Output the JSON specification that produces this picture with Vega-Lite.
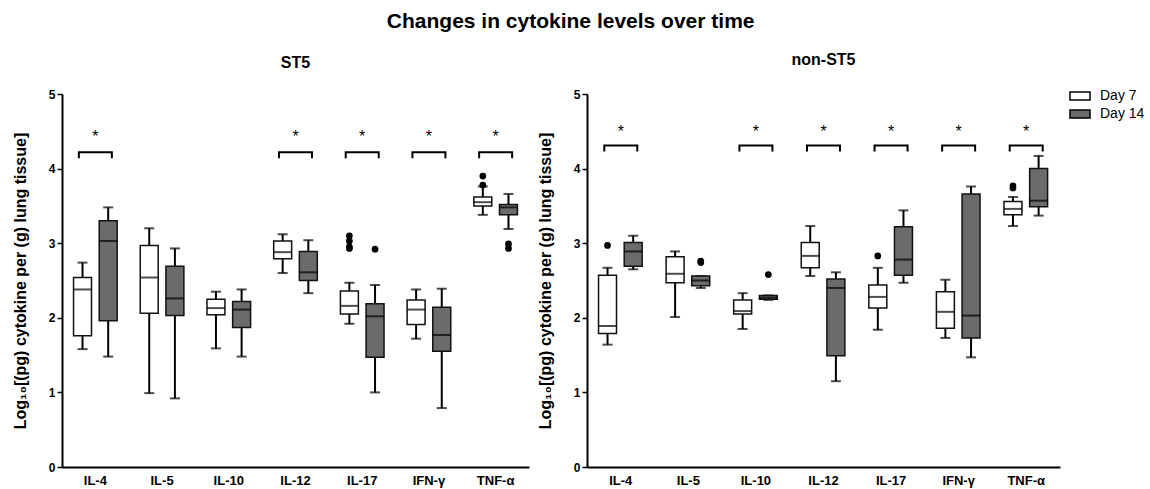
{
  "$schema": "https://vega.github.io/schema/vega-lite/v6.json",
  "padding": {"left": 12, "top": 11, "right": 0, "bottom": 2},
  "background": "white",
  "config": {
    "font": "Liberation Sans",
    "view": {"stroke": null},
    "axisY": {"domainColor": "black", "domainWidth": 2, "tickColor": "black", "tickWidth": 1.5, "tickSize": 5, "labelFontSize": 12, "labelFontWeight": "bold", "labelColor": "black", "labelPadding": 2, "titleFontSize": 16, "titleFontWeight": "bold", "titleColor": "black", "titlePadding": 20, "grid": false, "tickCount": 5},
    "axisX": {"domainColor": "black", "domainWidth": 2, "ticks": false, "labelFontSize": 13, "labelFontWeight": "bold", "labelColor": "black", "labelAngle": 0, "labelPadding": 7, "grid": false},
    "legend": {"labelFontSize": 14, "labelColor": "black", "symbolType": "M-1,-0.4H1V0.4H-1Z", "symbolSize": 400, "symbolStrokeColor": "black", "symbolStrokeWidth": 1.5, "rowPadding": 0, "labelOffset": 9}
  },
  "title": {"text": "Changes in cytokine levels over time", "fontSize": 21, "fontWeight": "bold", "color": "black", "anchor": "middle", "offset": 20, "dx": -8},
  "datasets": {
    "boxes": [
      {"panel": "ST5", "cytokine": "IL-4", "day": "Day 7", "lower": 1.58, "q1": 1.76, "median": 2.38, "q3": 2.54, "upper": 2.74},
      {"panel": "ST5", "cytokine": "IL-4", "day": "Day 14", "lower": 1.48, "q1": 1.96, "median": 3.03, "q3": 3.30, "upper": 3.48},
      {"panel": "ST5", "cytokine": "IL-5", "day": "Day 7", "lower": 0.99, "q1": 2.06, "median": 2.54, "q3": 2.97, "upper": 3.20},
      {"panel": "ST5", "cytokine": "IL-5", "day": "Day 14", "lower": 0.92, "q1": 2.03, "median": 2.26, "q3": 2.69, "upper": 2.93},
      {"panel": "ST5", "cytokine": "IL-10", "day": "Day 7", "lower": 1.59, "q1": 2.04, "median": 2.13, "q3": 2.25, "upper": 2.35},
      {"panel": "ST5", "cytokine": "IL-10", "day": "Day 14", "lower": 1.48, "q1": 1.87, "median": 2.11, "q3": 2.22, "upper": 2.38},
      {"panel": "ST5", "cytokine": "IL-12", "day": "Day 7", "lower": 2.60, "q1": 2.79, "median": 2.88, "q3": 3.03, "upper": 3.12},
      {"panel": "ST5", "cytokine": "IL-12", "day": "Day 14", "lower": 2.33, "q1": 2.50, "median": 2.61, "q3": 2.89, "upper": 3.04},
      {"panel": "ST5", "cytokine": "IL-17", "day": "Day 7", "lower": 1.92, "q1": 2.05, "median": 2.16, "q3": 2.36, "upper": 2.47},
      {"panel": "ST5", "cytokine": "IL-17", "day": "Day 14", "lower": 1.00, "q1": 1.47, "median": 2.02, "q3": 2.19, "upper": 2.44},
      {"panel": "ST5", "cytokine": "IFN-γ", "day": "Day 7", "lower": 1.72, "q1": 1.91, "median": 2.11, "q3": 2.24, "upper": 2.38},
      {"panel": "ST5", "cytokine": "IFN-γ", "day": "Day 14", "lower": 0.79, "q1": 1.55, "median": 1.77, "q3": 2.14, "upper": 2.39},
      {"panel": "ST5", "cytokine": "TNF-α", "day": "Day 7", "lower": 3.38, "q1": 3.50, "median": 3.55, "q3": 3.62, "upper": 3.76},
      {"panel": "ST5", "cytokine": "TNF-α", "day": "Day 14", "lower": 3.19, "q1": 3.38, "median": 3.48, "q3": 3.52, "upper": 3.66},
      {"panel": "non-ST5", "cytokine": "IL-4", "day": "Day 7", "lower": 1.64, "q1": 1.79, "median": 1.89, "q3": 2.57, "upper": 2.67},
      {"panel": "non-ST5", "cytokine": "IL-4", "day": "Day 14", "lower": 2.65, "q1": 2.69, "median": 2.89, "q3": 3.01, "upper": 3.10},
      {"panel": "non-ST5", "cytokine": "IL-5", "day": "Day 7", "lower": 2.01, "q1": 2.47, "median": 2.59, "q3": 2.82, "upper": 2.89},
      {"panel": "non-ST5", "cytokine": "IL-5", "day": "Day 14", "lower": 2.40, "q1": 2.43, "median": 2.50, "q3": 2.56, "upper": 2.56},
      {"panel": "non-ST5", "cytokine": "IL-10", "day": "Day 7", "lower": 1.85, "q1": 2.05, "median": 2.09, "q3": 2.24, "upper": 2.33},
      {"panel": "non-ST5", "cytokine": "IL-10", "day": "Day 14", "lower": 2.24, "q1": 2.25, "median": 2.27, "q3": 2.30, "upper": 2.30},
      {"panel": "non-ST5", "cytokine": "IL-12", "day": "Day 7", "lower": 2.56, "q1": 2.67, "median": 2.83, "q3": 3.01, "upper": 3.23},
      {"panel": "non-ST5", "cytokine": "IL-12", "day": "Day 14", "lower": 1.15, "q1": 1.49, "median": 2.40, "q3": 2.52, "upper": 2.61},
      {"panel": "non-ST5", "cytokine": "IL-17", "day": "Day 7", "lower": 1.84, "q1": 2.13, "median": 2.28, "q3": 2.44, "upper": 2.67},
      {"panel": "non-ST5", "cytokine": "IL-17", "day": "Day 14", "lower": 2.47, "q1": 2.57, "median": 2.78, "q3": 3.22, "upper": 3.44},
      {"panel": "non-ST5", "cytokine": "IFN-γ", "day": "Day 7", "lower": 1.73, "q1": 1.86, "median": 2.08, "q3": 2.35, "upper": 2.51},
      {"panel": "non-ST5", "cytokine": "IFN-γ", "day": "Day 14", "lower": 1.47, "q1": 1.73, "median": 2.03, "q3": 3.66, "upper": 3.76},
      {"panel": "non-ST5", "cytokine": "TNF-α", "day": "Day 7", "lower": 3.23, "q1": 3.38, "median": 3.46, "q3": 3.56, "upper": 3.62},
      {"panel": "non-ST5", "cytokine": "TNF-α", "day": "Day 14", "lower": 3.37, "q1": 3.49, "median": 3.57, "q3": 4.00, "upper": 4.17}
    ],
    "outliers": [
      {"panel": "ST5", "cytokine": "IL-17", "day": "Day 7", "value": 3.10},
      {"panel": "ST5", "cytokine": "IL-17", "day": "Day 7", "value": 3.03},
      {"panel": "ST5", "cytokine": "IL-17", "day": "Day 7", "value": 2.95},
      {"panel": "ST5", "cytokine": "IL-17", "day": "Day 7", "value": 2.93},
      {"panel": "ST5", "cytokine": "IL-17", "day": "Day 14", "value": 2.92},
      {"panel": "ST5", "cytokine": "TNF-α", "day": "Day 7", "value": 3.78},
      {"panel": "ST5", "cytokine": "TNF-α", "day": "Day 7", "value": 3.90},
      {"panel": "ST5", "cytokine": "TNF-α", "day": "Day 14", "value": 2.93},
      {"panel": "ST5", "cytokine": "TNF-α", "day": "Day 14", "value": 2.99},
      {"panel": "non-ST5", "cytokine": "IL-4", "day": "Day 7", "value": 2.97},
      {"panel": "non-ST5", "cytokine": "IL-5", "day": "Day 14", "value": 2.74},
      {"panel": "non-ST5", "cytokine": "IL-5", "day": "Day 14", "value": 2.76},
      {"panel": "non-ST5", "cytokine": "IL-10", "day": "Day 14", "value": 2.58},
      {"panel": "non-ST5", "cytokine": "IL-17", "day": "Day 7", "value": 2.83},
      {"panel": "non-ST5", "cytokine": "TNF-α", "day": "Day 7", "value": 3.74},
      {"panel": "non-ST5", "cytokine": "TNF-α", "day": "Day 7", "value": 3.77}
    ],
    "sig": [
      {"panel": "ST5", "cytokine": "IL-4", "bracket": 4.22, "star": 4.42, "label": "*"},
      {"panel": "ST5", "cytokine": "IL-12", "bracket": 4.22, "star": 4.42, "label": "*"},
      {"panel": "ST5", "cytokine": "IL-17", "bracket": 4.22, "star": 4.42, "label": "*"},
      {"panel": "ST5", "cytokine": "IFN-γ", "bracket": 4.22, "star": 4.42, "label": "*"},
      {"panel": "ST5", "cytokine": "TNF-α", "bracket": 4.22, "star": 4.42, "label": "*"},
      {"panel": "non-ST5", "cytokine": "IL-4", "bracket": 4.31, "star": 4.49, "label": "*"},
      {"panel": "non-ST5", "cytokine": "IL-10", "bracket": 4.31, "star": 4.49, "label": "*"},
      {"panel": "non-ST5", "cytokine": "IL-12", "bracket": 4.31, "star": 4.49, "label": "*"},
      {"panel": "non-ST5", "cytokine": "IL-17", "bracket": 4.31, "star": 4.49, "label": "*"},
      {"panel": "non-ST5", "cytokine": "IFN-γ", "bracket": 4.31, "star": 4.49, "label": "*"},
      {"panel": "non-ST5", "cytokine": "TNF-α", "bracket": 4.31, "star": 4.49, "label": "*"}
    ]
  },
  "resolve": {"legend": {"fill": "independent"}},
  "spacing": 8,
  "hconcat": [
    {
      "title": {"text": "ST5", "fontSize": 16, "fontWeight": "bold", "color": "black", "offset": 17},
      "width": 467,
      "height": 373,
      "encoding": {
        "x": {"field": "cytokine", "type": "nominal", "sort": ["IL-4", "IL-5", "IL-10", "IL-12", "IL-17", "IFN-γ", "TNF-α"], "scale": {"paddingInner": 0, "paddingOuter": 0}, "title": null}
      },
      "layer": [
        {
          "data": {"name": "boxes"},
          "transform": [{"filter": "datum.panel === 'ST5'"}],
          "mark": {"type": "rule", "color": "black", "strokeWidth": 2},
          "encoding": {
            "xOffset": {"field": "day", "type": "nominal", "sort": ["Day 7", "Day 14"], "scale": {"paddingInner": 0.3, "paddingOuter": 0.45}},
            "y": {"field": "lower", "type": "quantitative", "scale": {"domain": [0, 5], "nice": false}, "title": "Log₁₀[(pg) cytokine per (g) lung tissue]"},
            "y2": {"field": "upper"}
          }
        },
        {
          "data": {"name": "boxes"},
          "transform": [{"filter": "datum.panel === 'ST5'"}],
          "mark": {"type": "tick", "color": "black", "thickness": 2, "size": 10},
          "encoding": {
            "xOffset": {"field": "day", "type": "nominal", "sort": ["Day 7", "Day 14"]},
            "y": {"field": "lower", "type": "quantitative", "title": "Log₁₀[(pg) cytokine per (g) lung tissue]"}
          }
        },
        {
          "data": {"name": "boxes"},
          "transform": [{"filter": "datum.panel === 'ST5'"}],
          "mark": {"type": "tick", "color": "black", "thickness": 2, "size": 10},
          "encoding": {
            "xOffset": {"field": "day", "type": "nominal", "sort": ["Day 7", "Day 14"]},
            "y": {"field": "upper", "type": "quantitative", "title": "Log₁₀[(pg) cytokine per (g) lung tissue]"}
          }
        },
        {
          "data": {"name": "boxes"},
          "transform": [{"filter": "datum.panel === 'ST5'"}],
          "mark": {"type": "bar", "stroke": "#111111", "strokeWidth": 1.5},
          "encoding": {
            "xOffset": {"field": "day", "type": "nominal", "sort": ["Day 7", "Day 14"]},
            "y": {"field": "q1", "type": "quantitative", "title": "Log₁₀[(pg) cytokine per (g) lung tissue]"},
            "y2": {"field": "q3"},
            "fill": {"field": "day", "type": "nominal", "scale": {"domain": ["Day 7", "Day 14"], "range": ["white", "#6b6b6b"]}, "legend": null}
          }
        },
        {
          "data": {"name": "boxes"},
          "transform": [{"filter": "datum.panel === 'ST5'"}],
          "mark": {"type": "tick", "color": "black", "thickness": 2, "size": 18},
          "encoding": {
            "xOffset": {"field": "day", "type": "nominal", "sort": ["Day 7", "Day 14"]},
            "y": {"field": "median", "type": "quantitative", "title": "Log₁₀[(pg) cytokine per (g) lung tissue]"}
          }
        },
        {
          "data": {"name": "outliers"},
          "transform": [{"filter": "datum.panel === 'ST5'"}],
          "mark": {"type": "point", "shape": "circle", "filled": true, "color": "black", "opacity": 1, "size": 45},
          "encoding": {
            "xOffset": {"field": "day", "type": "nominal", "sort": ["Day 7", "Day 14"]},
            "y": {"field": "value", "type": "quantitative", "title": "Log₁₀[(pg) cytokine per (g) lung tissue]"}
          }
        },
        {
          "data": {"name": "sig"},
          "transform": [{"filter": "datum.panel === 'ST5'"}],
          "mark": {"type": "point", "shape": "M-1,0.36L-1,0L1,0L1,0.36", "filled": false, "stroke": "black", "strokeWidth": 2, "opacity": 1, "size": 1089},
          "encoding": {
            "y": {"field": "bracket", "type": "quantitative", "title": "Log₁₀[(pg) cytokine per (g) lung tissue]"}
          }
        },
        {
          "data": {"name": "sig"},
          "transform": [{"filter": "datum.panel === 'ST5'"}],
          "mark": {"type": "text", "fontSize": 16, "color": "black", "baseline": "middle"},
          "encoding": {
            "y": {"field": "star", "type": "quantitative", "title": "Log₁₀[(pg) cytokine per (g) lung tissue]"},
            "text": {"field": "label"}
          }
        }
      ]
    },
    {
      "title": {"text": "non-ST5", "fontSize": 16, "fontWeight": "bold", "color": "black", "offset": 17},
      "width": 473,
      "height": 373,
      "encoding": {
        "x": {"field": "cytokine", "type": "nominal", "sort": ["IL-4", "IL-5", "IL-10", "IL-12", "IL-17", "IFN-γ", "TNF-α"], "scale": {"paddingInner": 0, "paddingOuter": 0}, "title": null}
      },
      "layer": [
        {
          "data": {"name": "boxes"},
          "transform": [{"filter": "datum.panel === 'non-ST5'"}],
          "mark": {"type": "rule", "color": "black", "strokeWidth": 2},
          "encoding": {
            "xOffset": {"field": "day", "type": "nominal", "sort": ["Day 7", "Day 14"], "scale": {"paddingInner": 0.3, "paddingOuter": 0.45}},
            "y": {"field": "lower", "type": "quantitative", "scale": {"domain": [0, 5], "nice": false}, "title": "Log₁₀[(pg) cytokine per (g) lung tissue]"},
            "y2": {"field": "upper"}
          }
        },
        {
          "data": {"name": "boxes"},
          "transform": [{"filter": "datum.panel === 'non-ST5'"}],
          "mark": {"type": "tick", "color": "black", "thickness": 2, "size": 10},
          "encoding": {
            "xOffset": {"field": "day", "type": "nominal", "sort": ["Day 7", "Day 14"]},
            "y": {"field": "lower", "type": "quantitative", "title": "Log₁₀[(pg) cytokine per (g) lung tissue]"}
          }
        },
        {
          "data": {"name": "boxes"},
          "transform": [{"filter": "datum.panel === 'non-ST5'"}],
          "mark": {"type": "tick", "color": "black", "thickness": 2, "size": 10},
          "encoding": {
            "xOffset": {"field": "day", "type": "nominal", "sort": ["Day 7", "Day 14"]},
            "y": {"field": "upper", "type": "quantitative", "title": "Log₁₀[(pg) cytokine per (g) lung tissue]"}
          }
        },
        {
          "data": {"name": "boxes"},
          "transform": [{"filter": "datum.panel === 'non-ST5'"}],
          "mark": {"type": "bar", "stroke": "#111111", "strokeWidth": 1.5},
          "encoding": {
            "xOffset": {"field": "day", "type": "nominal", "sort": ["Day 7", "Day 14"]},
            "y": {"field": "q1", "type": "quantitative", "title": "Log₁₀[(pg) cytokine per (g) lung tissue]"},
            "y2": {"field": "q3"},
            "fill": {"field": "day", "type": "nominal", "scale": {"domain": ["Day 7", "Day 14"], "range": ["white", "#6b6b6b"]}, "legend": {"title": null, "orient": "none", "legendX": 482, "legendY": -9}}
          }
        },
        {
          "data": {"name": "boxes"},
          "transform": [{"filter": "datum.panel === 'non-ST5'"}],
          "mark": {"type": "tick", "color": "black", "thickness": 2, "size": 18},
          "encoding": {
            "xOffset": {"field": "day", "type": "nominal", "sort": ["Day 7", "Day 14"]},
            "y": {"field": "median", "type": "quantitative", "title": "Log₁₀[(pg) cytokine per (g) lung tissue]"}
          }
        },
        {
          "data": {"name": "outliers"},
          "transform": [{"filter": "datum.panel === 'non-ST5'"}],
          "mark": {"type": "point", "shape": "circle", "filled": true, "color": "black", "opacity": 1, "size": 45},
          "encoding": {
            "xOffset": {"field": "day", "type": "nominal", "sort": ["Day 7", "Day 14"]},
            "y": {"field": "value", "type": "quantitative", "title": "Log₁₀[(pg) cytokine per (g) lung tissue]"}
          }
        },
        {
          "data": {"name": "sig"},
          "transform": [{"filter": "datum.panel === 'non-ST5'"}],
          "mark": {"type": "point", "shape": "M-1,0.36L-1,0L1,0L1,0.36", "filled": false, "stroke": "black", "strokeWidth": 2, "opacity": 1, "size": 1089},
          "encoding": {
            "y": {"field": "bracket", "type": "quantitative", "title": "Log₁₀[(pg) cytokine per (g) lung tissue]"}
          }
        },
        {
          "data": {"name": "sig"},
          "transform": [{"filter": "datum.panel === 'non-ST5'"}],
          "mark": {"type": "text", "fontSize": 16, "color": "black", "baseline": "middle"},
          "encoding": {
            "y": {"field": "star", "type": "quantitative", "title": "Log₁₀[(pg) cytokine per (g) lung tissue]"},
            "text": {"field": "label"}
          }
        }
      ]
    }
  ]
}
